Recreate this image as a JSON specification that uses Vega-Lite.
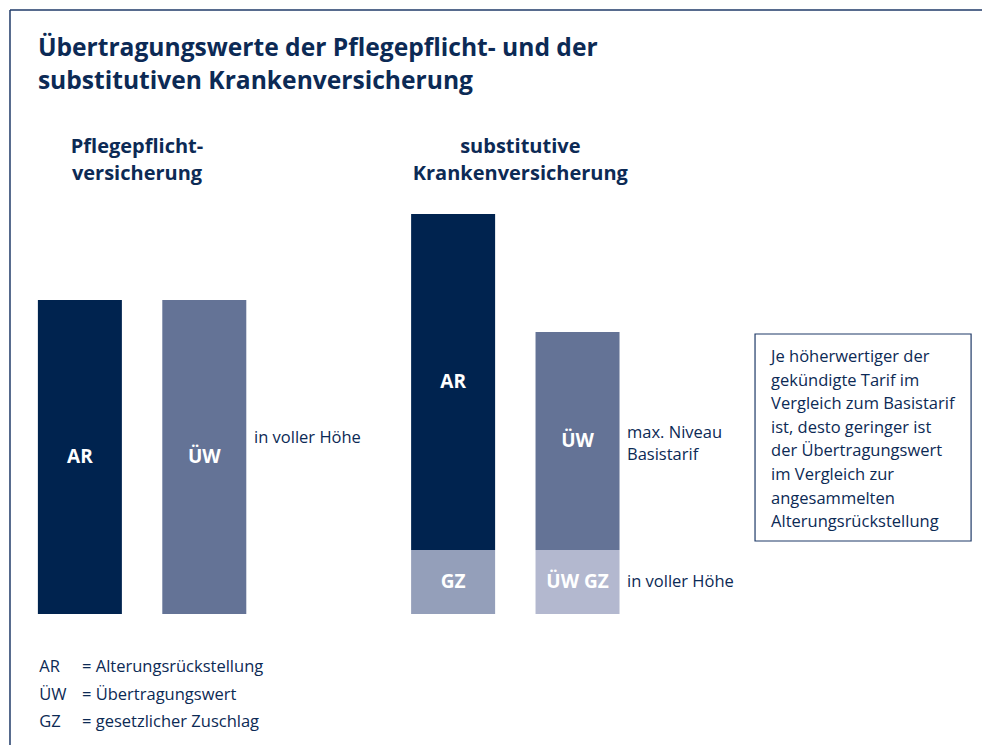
{
  "$schema": "https://vega.github.io/schema/vega-lite/v6.json",
  "width": 982,
  "height": 745,
  "padding": 0,
  "autosize": {"type": "none"},
  "background": "white",
  "config": {"view": {"stroke": null}, "font": "Open Sans", "text": {"font": "Open Sans", "color": "#0c2a55"}},
  "layer": [
    {
      "data": {"values": [{"part": "Rahmen"}]},
      "mark": {"type": "rule", "color": "#1f3a68", "strokeWidth": 1.5},
      "encoding": {
        "x": {"datum": "Pflege AR", "bandPosition": -0.332},
        "x2": {"datum": "Notiz", "bandPosition": 2.5},
        "y": {"datum": 151}
      }
    },
    {
      "data": {"values": [{"part": "Rahmen"}]},
      "mark": {"type": "rule", "color": "#1f3a68", "strokeWidth": 1.5},
      "encoding": {
        "x": {"datum": "Pflege AR", "bandPosition": -0.332},
        "y": {"datum": 151},
        "y2": {"datum": -40}
      }
    },
    {
      "data": {"values": [
        {"col": "Pflege AR", "seg": "AR", "value": 78.5, "ord": 2},
        {"col": "Pflege ÜW", "seg": "ÜW", "value": 78.5, "ord": 2},
        {"col": "Kranken AR", "seg": "GZ", "value": 16, "ord": 1},
        {"col": "Kranken AR", "seg": "AR", "value": 84, "ord": 2},
        {"col": "Kranken ÜW", "seg": "ÜW GZ", "value": 16, "ord": 1},
        {"col": "Kranken ÜW", "seg": "ÜW", "value": 54.5, "ord": 2}
      ]},
      "layer": [
        {
          "mark": {"type": "bar"},
          "encoding": {
            "x": {
              "field": "col", "type": "nominal", "axis": null,
              "scale": {
                "domain": ["Pflege AR", "Pflege ÜW", "Lücke", "Kranken AR", "Kranken ÜW", "Rand", "Notiz"],
                "paddingInner": 0.3248, "paddingOuter": 0.609, "align": 0.25
              }
            },
            "y": {
              "field": "value", "type": "quantitative", "axis": null, "stack": "zero",
              "scale": {"domain": [-32.75, 153.5], "nice": false, "zero": false}
            },
            "color": {
              "field": "seg", "type": "nominal", "legend": null,
              "scale": {"domain": ["AR", "ÜW", "GZ", "ÜW GZ"], "range": ["#00234f", "#647396", "#949fba", "#b3b8cf"]}
            },
            "order": {"field": "ord", "type": "quantitative"}
          }
        },
        {
          "mark": {"type": "text", "color": "white", "fontSize": 19, "fontWeight": "bold", "baseline": "middle", "align": "center"},
          "encoding": {
            "x": {"field": "col", "type": "nominal"},
            "y": {"field": "value", "type": "quantitative", "stack": "zero", "bandPosition": 0.5},
            "detail": {"field": "seg"},
            "order": {"field": "ord", "type": "quantitative"},
            "text": {"field": "seg"}
          }
        }
      ]
    },
    {
      "data": {"values": [{"t": ["Übertragungswerte der Pflegepflicht- und der", "substitutiven Krankenversicherung"]}]},
      "mark": {"type": "text", "fontSize": 24.6, "fontWeight": "bold", "align": "left", "baseline": "alphabetic", "lineHeight": 33},
      "encoding": {
        "x": {"datum": "Pflege AR", "bandPosition": 0},
        "y": {"datum": 139.5},
        "text": {"field": "t"}
      }
    },
    {
      "data": {"values": [{"t": ["Pflegepflicht-", "versicherung"]}]},
      "mark": {"type": "text", "fontSize": 20, "fontWeight": "bold", "align": "center", "baseline": "alphabetic", "lineHeight": 27},
      "encoding": {
        "x": {"datum": "Pflege AR", "bandPosition": 1.18},
        "y": {"datum": 115.25},
        "text": {"field": "t"}
      }
    },
    {
      "data": {"values": [{"t": ["substitutive", "Krankenversicherung"]}]},
      "mark": {"type": "text", "fontSize": 20, "fontWeight": "bold", "align": "center", "baseline": "alphabetic", "lineHeight": 27},
      "encoding": {
        "x": {"datum": "Kranken AR", "bandPosition": 1.3},
        "y": {"datum": 115.25},
        "text": {"field": "t"}
      }
    },
    {
      "data": {"values": [{"t": "in voller Höhe"}]},
      "mark": {"type": "text", "fontSize": 16.5, "align": "left", "baseline": "alphabetic"},
      "encoding": {
        "x": {"datum": "Pflege ÜW", "bandPosition": 1.092},
        "y": {"datum": 42.75},
        "text": {"field": "t"}
      }
    },
    {
      "data": {"values": [{"t": ["max. Niveau", "Basistarif"]}]},
      "mark": {"type": "text", "fontSize": 16.5, "align": "left", "baseline": "alphabetic", "lineHeight": 22},
      "encoding": {
        "x": {"datum": "Kranken ÜW", "bandPosition": 1.089},
        "y": {"datum": 44},
        "text": {"field": "t"}
      }
    },
    {
      "data": {"values": [{"t": "in voller Höhe"}]},
      "mark": {"type": "text", "fontSize": 16.5, "align": "left", "baseline": "alphabetic"},
      "encoding": {
        "x": {"datum": "Kranken ÜW", "bandPosition": 1.089},
        "y": {"datum": 6.75},
        "text": {"field": "t"}
      }
    },
    {
      "data": {"values": [{"t": ["AR", "ÜW", "GZ"]}]},
      "mark": {"type": "text", "fontSize": 16.5, "align": "left", "baseline": "alphabetic", "lineHeight": 27.5},
      "encoding": {
        "x": {"datum": "Pflege AR", "bandPosition": 0.017},
        "y": {"datum": -14.5},
        "text": {"field": "t"}
      }
    },
    {
      "data": {"values": [{"t": ["= Alterungsrückstellung", "= Übertragungswert", "= gesetzlicher Zuschlag"]}]},
      "mark": {"type": "text", "fontSize": 16.5, "align": "left", "baseline": "alphabetic", "lineHeight": 27.5},
      "encoding": {
        "x": {"datum": "Pflege AR", "bandPosition": 0.525},
        "y": {"datum": -14.5},
        "text": {"field": "t"}
      }
    },
    {
      "data": {"values": [{"part": "Kasten"}]},
      "mark": {"type": "rect", "fill": "white", "stroke": "#1f3a68", "strokeWidth": 1.2},
      "encoding": {
        "x": {"datum": "Notiz", "bandPosition": -0.349},
        "x2": {"datum": "Notiz", "bandPosition": 2.223},
        "y": {"datum": 70},
        "y2": {"datum": 18.25}
      }
    },
    {
      "data": {"values": [{"t": ["Je höherwertiger der", "gekündigte Tarif im", "Vergleich zum Basistarif", "ist, desto geringer ist", "der Übertragungswert", "im Vergleich zur", "angesammelten", "Alterungsrückstellung"]}]},
      "mark": {"type": "text", "fontSize": 16.5, "align": "left", "baseline": "alphabetic", "lineHeight": 23.6},
      "encoding": {
        "x": {"datum": "Notiz", "bandPosition": -0.158},
        "y": {"datum": 63},
        "text": {"field": "t"}
      }
    }
  ]
}
